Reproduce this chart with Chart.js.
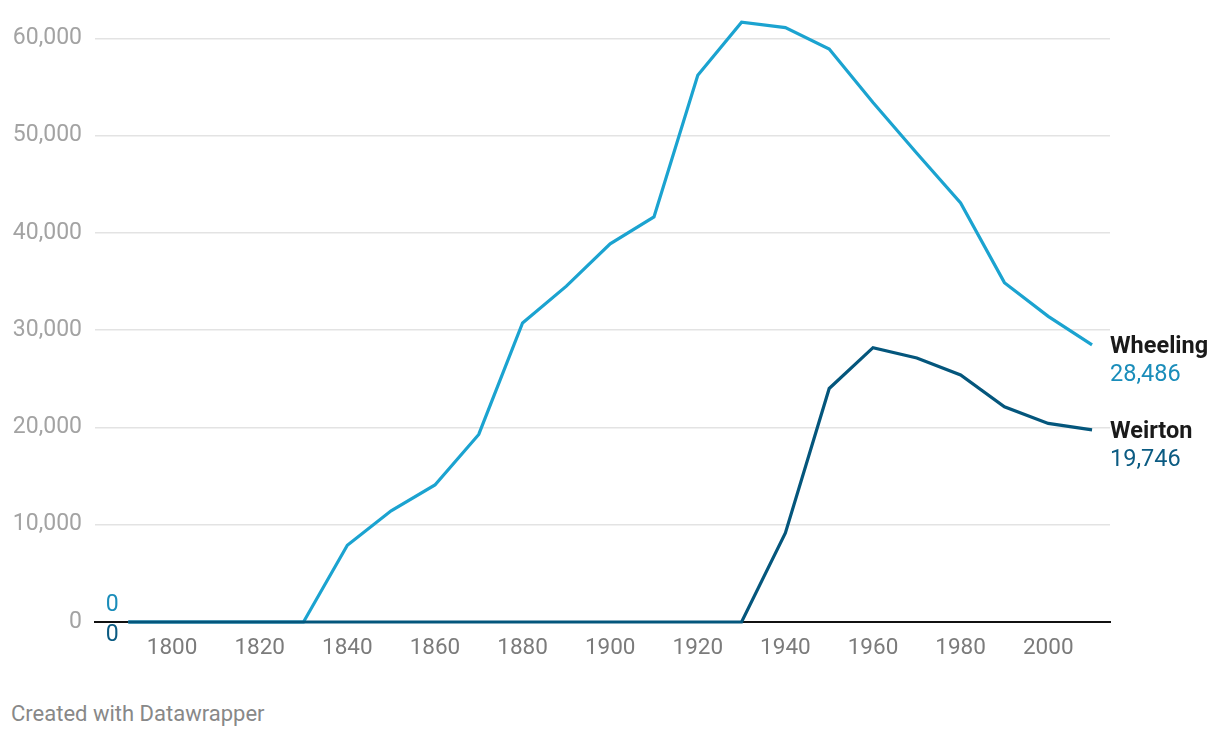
<!DOCTYPE html>
<html>
<head>
<meta charset="utf-8">
<script src="https://cdn.jsdelivr.net/npm/chart.js@4"></script>
<style>
  body { margin: 0; background: #fff; font-family: Roboto, sans-serif; }
  #wrap { position: relative; width: 1220px; height: 738px; }
  #grafico { position: absolute; left: 0; top: 0; }
  #rodape { position: absolute; left: 11px; top: 701px; font-size: 22px; color: #888; }
</style>
</head>
<body>
<div id="wrap">
  <canvas id="grafico" width="1220" height="672"></canvas>
  <div id="rodape">Created with Datawrapper</div>
</div>
<script>
// census years, one point per decade
var anos = [1790, 1800, 1810, 1820, 1830, 1840, 1850, 1860, 1870, 1880, 1890, 1900,
            1910, 1920, 1930, 1940, 1950, 1960, 1970, 1980, 1990, 2000, 2010];

var wheeling = [0, 0, 0, 0, 0, 7885, 11435, 14083, 19280, 30737, 34522, 38878,
                41641, 56208, 61659, 61099, 58891, 53400, 48188, 43070, 34882, 31420, 28486];

var weirton = [0, 0, 0, 0, 0, 0, 0, 0, 0, 0, 0, 0,
               0, 0, 0, 9150, 24005, 28201, 27131, 25400, 22124, 20411, 19746];

var ticksX = [1800, 1820, 1840, 1860, 1880, 1900, 1920, 1940, 1960, 1980, 2000];
var ticksY = [0, 10000, 20000, 30000, 40000, 50000, 60000];

var series = [
  { nome: "Wheeling", valores: wheeling, cor: "#1ba3d0", corTexto: "#1a8dba" },
  { nome: "Weirton", valores: weirton, cor: "#04567c", corTexto: "#0b5b82" }
];

function pares(valores) {
  var out = [];
  for (var i = 0; i < anos.length; i++) out.push({ x: anos[i], y: valores[i] });
  return out;
}

function fmt(n) {
  return n.toLocaleString("en-US");
}

// labels at the end (name + last value) and the "0" at the start
var rotulos = {
  id: "rotulos",
  afterDatasetsDraw: function(chart) {
    var ctx = chart.ctx;
    var sx = chart.scales.x, sy = chart.scales.y;
    ctx.save();
    ctx.textBaseline = "middle";
    series.forEach(function(s, i) {
      var ultimo = s.valores[s.valores.length - 1];
      var xf = sx.getPixelForValue(anos[anos.length - 1]) + 18;
      var yf = sy.getPixelForValue(ultimo);
      ctx.textAlign = "left";
      ctx.font = "bold 23.5px Roboto";
      ctx.fillStyle = "#1a1a1a";
      ctx.fillText(s.nome, xf, yf + 2);
      ctx.font = "23.5px Roboto";
      ctx.fillStyle = s.corTexto;
      ctx.fillText(fmt(ultimo), xf, yf + 30);

      var xi = sx.getPixelForValue(anos[0]) - 16;
      var yi = sy.getPixelForValue(s.valores[0]) + (i === 0 ? -17 : 13);
      ctx.textAlign = "center";
      ctx.font = "23px Roboto";
      ctx.fillText(fmt(s.valores[0]), xi, yi);
    });
    ctx.restore();
  }
};

var datasets = series.map(function(s, i) {
  return {
    label: s.nome,
    data: pares(s.valores),
    borderColor: s.cor,
    backgroundColor: s.cor,
    borderWidth: 3.2,
    pointRadius: 0,
    tension: 0,
    fill: false,
    clip: false,
    order: series.length - i
  };
});

new Chart(document.getElementById("grafico"), {
  type: "line",
  data: { datasets: datasets },
  options: {
    responsive: false,
    devicePixelRatio: 1,
    animation: false,
    layout: { padding: { left: 0, right: 110, top: 0, bottom: 0 } },
    plugins: { legend: { display: false }, tooltip: { enabled: false } },
    scales: {
      x: {
        type: "linear",
        min: 1782.4,
        max: 2014.1,
        afterBuildTicks: function(scale) {
          scale.ticks = ticksX.map(function(v) { return { value: v }; });
        },
        afterFit: function(scale) { scale.height = 50; },
        grid: { display: false, drawTicks: false },
        border: { display: true, color: "#111", width: 2 },
        ticks: {
          padding: 13,
          color: "#7b7b7b",
          font: { family: "Roboto", size: 22.5 },
          callback: function(v) { return String(v); }
        }
      },
      y: {
        min: 0,
        max: 61180,
        afterBuildTicks: function(scale) {
          scale.ticks = ticksY.map(function(v) { return { value: v }; });
        },
        afterFit: function(scale) { scale.width = 95; },
        grid: { color: "#e3e3e3", lineWidth: 1.5, drawTicks: false },
        border: { display: false },
        ticks: {
          padding: 13,
          color: "#a3a3a3",
          font: { family: "Roboto", size: 23 },
          callback: function(v) { return fmt(v); }
        }
      }
    }
  },
  plugins: [rotulos]
});
</script>
</body>
</html>
